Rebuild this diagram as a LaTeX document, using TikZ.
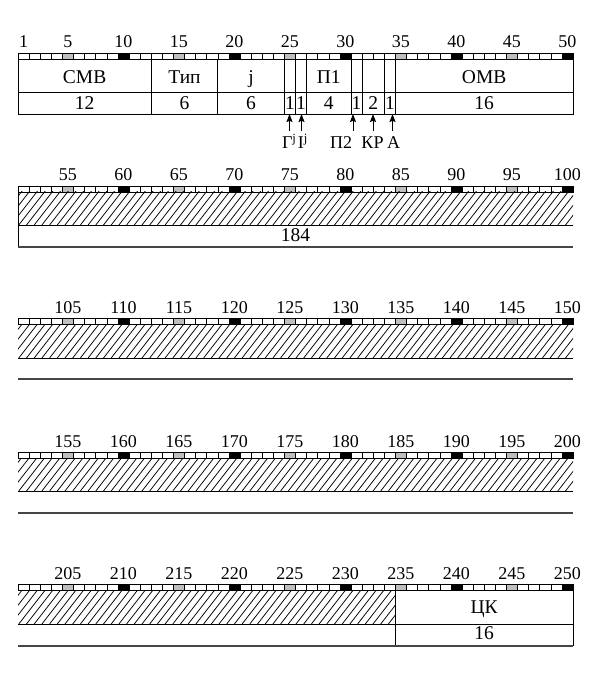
\documentclass[tikz,border=0pt]{standalone}
\usepackage{fontspec}
\setmainfont{Liberation Serif}
\usepackage{xcolor}
\usepackage{tikz}
\usetikzlibrary{arrows.meta,calc}
\definecolor{tickgray}{RGB}{190,190,190}
\definecolor{linegray}{RGB}{70,70,70}
\newcommand{\cellw}{11.1}
\newcommand{\leftx}{18}

\begin{document}
\begin{tikzpicture}[x=1pt,y=-1pt,
  frame/.style={line width=0.9pt},
  hatchline/.style={line width=0.75pt},
  sepline/.style={line width=1.2pt,linegray},
  bitcell/.style={line width=0.6pt},
  numlbl/.style={font=\fontsize{18}{20}\selectfont,inner sep=0pt,anchor=base},
  fieldlbl/.style={font=\fontsize{19.5}{22}\selectfont,inner sep=0pt,anchor=base},
  flaglbl/.style={font=\fontsize{18}{20}\selectfont,inner sep=0pt,anchor=base,text height=17pt}]
\useasboundingbox (0,0) rectangle (599,692);
% bit rulers
\foreach \r/\top in {0/53,1/186,2/318,3/452,4/584}{
  \foreach \i in {1,...,50}
    \draw[bitcell,fill=white] ({\leftx+(\i-1)*\cellw},\top) rectangle ++(\cellw,6);
  \foreach \i in {5,15,...,45}
    \draw[bitcell,fill=tickgray] ({\leftx+(\i-1)*\cellw},\top) rectangle ++(\cellw,6);
  \foreach \i in {10,20,...,50}
    \draw[bitcell,fill=black] ({\leftx+(\i-1)*\cellw},\top) rectangle ++(\cellw,6);
  \foreach \i in {5,10,...,50}{
    \pgfmathtruncatemacro{\n}{50*\r+\i}
    \node[numlbl] (bit\n) at ({\leftx+(\i-0.5)*\cellw},\top-5) {\n};
  }
}
\node[numlbl] (bit1) at ({\leftx+0.5*\cellw},48) {1};
% first word: fields
\draw[frame] (18,59) rectangle (573,114);
\draw[frame] (18,92) -- (573,92);
\foreach \x in {151.2,217.8,284.4,295.5,306.6,351,362.1,384.3,395.4}
  \draw[frame] (\x,59) -- (\x,114);
\foreach \nm/\x/\t in {smv/84.6/СМВ, tip/184.5/Тип, jf/251.1/j, pone/328.8/П1, omv/484.2/ОМВ}
  \node[fieldlbl] (\nm) at (\x,83.3) {\t};
\foreach \nm/\x/\t in {wsmv/84.6/12, wtip/184.5/6, wj/251.1/6, wgj/290/1, wij/301/1,
                       wpone/328.8/4, wptwo/356.6/1, wkr/373.2/2, wa/389.9/1, womv/484.2/16}
  \node[fieldlbl] (\nm) at (\x,109.3) {\t};
% flags
\foreach \nm/\hx/\lx/\t in {gj/289.5/289.2/Г\textsuperscript{j}, ij/301.5/302.8/I\textsuperscript{j},
                            ptwo/353/341/П2, kr/373/372.5/КР, af/392.5/393.5/А}{
  \coordinate (h\nm) at (\hx,114);
  \node[flaglbl] (\nm) at (\lx,148.3) {\t};
  \draw[line width=1pt,-{Stealth[length=8pt,width=6pt,inset=1.2pt]}] (h\nm |- \nm.north) -- (h\nm);
}
% hatched bands
\foreach \xa/\ya/\xb/\yb in {18/192/573/225, 18/324/573/358, 18/458/573/491, 18/590/395.4/624}{
  \begin{scope}
    \clip (\xa,\ya) rectangle (\xb,\yb);
    \foreach \k in {0,...,78}
      \draw[hatchline] ({\xa-30+\k*7.7},\yb) -- ++(28,-36);
  \end{scope}
  \draw[frame] (\xa,\yb) -- (\xb,\yb);
}
% second word
\draw[frame] (18,192) -- (18,247);
\draw[sepline] (18,247) -- (573,247);
\node[fieldlbl] (len184) at (295.5,241.7) {184};
% third and fourth words
\draw[sepline] (18,379) -- (573,379);
\draw[sepline] (18,513) -- (573,513);
% fifth word: check code
\draw[frame] (395.4,590) -- (395.4,646);
\draw[frame] (573,590) -- (573,646);
\draw[frame] (395.4,624) -- (573,624);
\draw[sepline] (18,646) -- (573,646);
\node[fieldlbl] (ck) at (484.2,613.3) {ЦК};
\node[fieldlbl] (len16) at (484.2,639) {16};
\end{tikzpicture}
\end{document}
